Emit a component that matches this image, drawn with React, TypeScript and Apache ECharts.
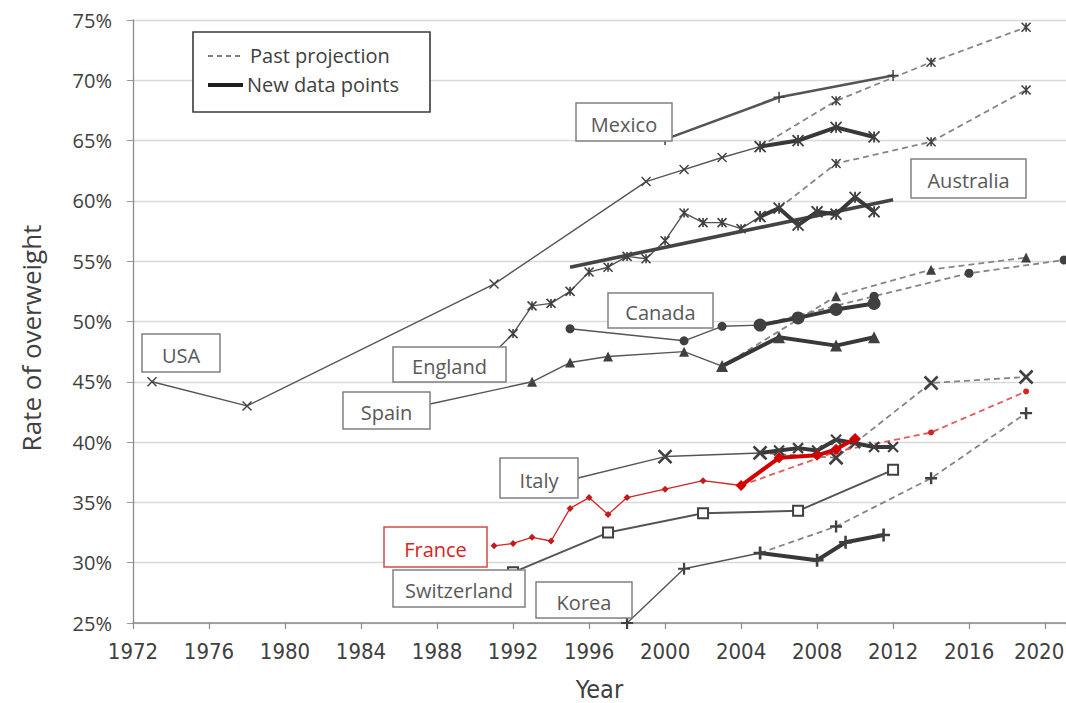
import React, { useEffect, useRef } from 'react';
import * as echarts from 'echarts';

type P = [number, number];

// ---- Data (year, rate of overweight %) ----
const usaHist: P[] = [[1973, 45.0], [1978, 43.0], [1991, 53.1], [1999, 61.6], [2001, 62.6], [2003, 63.6], [2005, 64.5]];
const usaNew: P[] = [[2005, 64.5], [2007, 65.0], [2009, 66.1], [2011, 65.3]];
const usaProj: P[] = [[2005, 64.5], [2009, 68.3], [2014, 71.5], [2019, 74.4]];

const mexicoHist: P[] = [[2000, 65.1], [2006, 68.6], [2012, 70.4]];

const englandHist: P[] = [[1991, 47.4], [1992, 49.0], [1993, 51.3], [1994, 51.5], [1995, 52.5], [1996, 54.1], [1997, 54.5], [1998, 55.4], [1999, 55.2], [2000, 56.7], [2001, 59.0], [2002, 58.2], [2003, 58.2], [2004, 57.7], [2005, 58.7]];
const englandNew: P[] = [[2005, 58.7], [2006, 59.4], [2007, 58.0], [2008, 59.1], [2009, 58.9], [2010, 60.3], [2011, 59.1]];
const englandProj: P[] = [[2006, 59.4], [2009, 63.1], [2014, 64.9], [2019, 69.2]];

const australiaNew: P[] = [[1995, 54.5], [2012, 60.1]];

const canadaHist: P[] = [[1995, 49.4], [2001, 48.4], [2003, 49.6], [2005, 49.7]];
const canadaNew: P[] = [[2005, 49.7], [2007, 50.3], [2009, 51.0], [2011, 51.5]];
const canadaProj: P[] = [[2005, 49.7], [2011, 52.1], [2016, 54.0], [2021, 55.1]];

const spainHist: P[] = [[1993, 45.0], [1995, 46.6], [1997, 47.1], [2001, 47.5], [2003, 46.3]];
const spainNew: P[] = [[2003, 46.3], [2006, 48.7], [2009, 48.0], [2011, 48.7]];
const spainProj: P[] = [[2003, 46.3], [2009, 52.1], [2014, 54.3], [2019, 55.3]];

const italyHist: P[] = [[2000, 38.8], [2005, 39.1]];
const italyNew: P[] = [[2005, 39.1], [2006, 39.3], [2007, 39.5], [2008, 39.3], [2009, 40.2], [2010, 39.9], [2011, 39.6], [2012, 39.6]];
const italyProj: P[] = [[2005, 39.1], [2009, 38.7], [2014, 44.9], [2019, 45.4]];

const franceHist: P[] = [[1991, 31.4], [1992, 31.6], [1993, 32.1], [1994, 31.8], [1995, 34.5], [1996, 35.4], [1997, 34.0], [1998, 35.4], [2000, 36.1], [2002, 36.8], [2004, 36.4]];
const franceNew: P[] = [[2004, 36.4], [2006, 38.7], [2008, 38.9], [2009, 39.4], [2010, 40.3]];
const franceProj: P[] = [[2004, 36.4], [2009, 39.2], [2014, 40.8], [2019, 44.2]];

const switzerlandHist: P[] = [[1992, 29.2], [1997, 32.5], [2002, 34.1], [2007, 34.3], [2012, 37.7]];

const koreaHist: P[] = [[1998, 25.0], [2001, 29.5], [2005, 30.8]];
const koreaNew: P[] = [[2005, 30.8], [2008, 30.2], [2009.5, 31.7], [2011.5, 32.3]];
const koreaProj: P[] = [[2005, 30.8], [2009, 33.0], [2014, 37.0], [2019, 42.4]];

const yearMin = 1972;
const yearMax = 2021.1;
const yearStep = 4;
const lastYearLabel = 2020;
const rateMin = 25;
const rateMax = 75;
const rateStep = 5;

const legendLabels = ['Past projection', 'New data points'];
const yTitle = 'Rate of overweight';
const xTitle = 'Year';

// ---- Annotation layout (label boxes, pixels) ----
const labelBoxes = [
  { text: 'USA', x: 142, y: 334, w: 78, h: 38 },
  { text: 'Mexico', x: 576, y: 103, w: 96, h: 38 },
  { text: 'Australia', x: 911, y: 159, w: 115, h: 39 },
  { text: 'Canada', x: 608, y: 293, w: 105, h: 35 },
  { text: 'England', x: 393, y: 347, w: 113, h: 35 },
  { text: 'Spain', x: 343, y: 392, w: 87, h: 37 },
  { text: 'Italy', x: 500, y: 458, w: 78, h: 40 },
  { text: 'France', x: 384, y: 527, w: 103, h: 40, red: true },
  { text: 'Switzerland', x: 393, y: 570, w: 132, h: 37 },
  { text: 'Korea', x: 536, y: 582, w: 96, h: 36 },
];

const FONT = '"Open Sans", Lato, sans-serif';
const NARROW = '"Liberation Sans Narrow", "DejaVu Sans Condensed", "Open Sans", sans-serif';
const TXT = '#404040';
const BOXTXT = '#595959';
const RED = '#d42424';

const X_SYM = 'path://M0,0L10,10M10,0L0,10';
const STAR_SYM = 'path://M0,0L10,10M10,0L0,10M5,0L5,10';
const PLUS_SYM = 'path://M5,0L5,10M0,5L10,5';

type Kind = 'thin' | 'mid' | 'thick' | 'proj';

function mk(
  data: P[],
  kind: Kind,
  symbol: string,
  symbolSize: number,
  markerW: number,
  opts: { color?: string; marker?: string; width?: number; hideFirst?: boolean } = {}
) {
  const lineColor = opts.color ?? (kind === 'proj' ? '#858585' : kind === 'thick' ? '#383838' : '#555555');
  const width = opts.width ?? (kind === 'thick' ? 4 : kind === 'mid' ? 2.6 : kind === 'proj' ? 1.8 : 1.4);
  const mc = opts.marker ?? '#404040';
  return {
    type: 'line',
    data: data.map((p, i) => (opts.hideFirst && i === 0 ? { value: p, symbol: 'none' } : p)),
    symbol,
    symbolSize,
    showSymbol: true,
    lineStyle: { color: lineColor, width, type: kind === 'proj' ? [6, 4] : 'solid' },
    itemStyle: { color: mc, borderColor: mc, borderWidth: markerW },
    z: kind === 'proj' ? 2 : kind === 'thick' ? 4 : 3,
    silent: true,
    animation: false,
  };
}

export default function App() {
  const ref = useRef<HTMLDivElement>(null);

  useEffect(() => {
    if (!ref.current) return;
    const chart = echarts.init(ref.current, undefined, { renderer: 'svg', width: 1066, height: 703 });

    const series: any[] = [
      // projections
      mk(usaProj, 'proj', STAR_SYM, 9, 1.6, { hideFirst: true }),
      mk(englandProj, 'proj', STAR_SYM, 9, 1.6, { hideFirst: true }),
      mk(canadaProj, 'proj', 'circle', 9, 0, { hideFirst: true }),
      mk(spainProj, 'proj', 'triangle', 10, 0, { hideFirst: true }),
      mk(italyProj, 'proj', X_SYM, 13, 2.6, { hideFirst: true }),
      mk(franceProj, 'proj', 'circle', 6, 0, { hideFirst: true, color: '#e05a5a', marker: RED }),
      mk(koreaProj, 'proj', PLUS_SYM, 12, 2.4, { hideFirst: true }),
      // historical
      mk(usaHist, 'thin', X_SYM, 9, 1.4),
      mk(mexicoHist, 'mid', PLUS_SYM, 11, 1.5),
      mk(englandHist, 'thin', STAR_SYM, 9, 1.6),
      mk(canadaHist, 'thin', 'circle', 9, 0),
      mk(spainHist, 'thin', 'triangle', 10, 0),
      mk(italyHist, 'thin', X_SYM, 13, 2.6),
      mk(franceHist, 'thin', 'diamond', 7, 0, { color: RED, marker: '#c41a1a', width: 1.3 }),
      mk(switzerlandHist, 'mid', 'emptyRect', 10, 1.4, { width: 2 }),
      mk(koreaHist, 'thin', PLUS_SYM, 12, 2.2),
      // new data points
      mk(australiaNew, 'thick', 'none', 0, 0, { width: 3.6, color: '#444444' }),
      mk(usaNew, 'thick', STAR_SYM, 11, 1.8),
      mk(englandNew, 'thick', STAR_SYM, 11, 1.8),
      mk(canadaNew, 'thick', 'circle', 13, 0),
      mk(spainNew, 'thick', 'triangle', 12, 0),
      mk(italyNew, 'thick', X_SYM, 10, 2.2),
      mk(franceNew, 'thick', 'diamond', 11, 0, { color: '#d40000', marker: '#d40000' }),
      mk(koreaNew, 'thick', PLUS_SYM, 13, 2.6),
    ];

    chart.setOption({
      animation: false,
      backgroundColor: '#ffffff',
      grid: { left: 133, top: 20, right: 0, bottom: 80, containLabel: false, outerBoundsMode: 'none' },
      xAxis: {
        type: 'value',
        min: yearMin,
        max: yearMax,
        interval: yearStep,
        name: xTitle,
        nameLocation: 'middle',
        nameGap: 54,
        nameTextStyle: { fontFamily: NARROW, fontSize: 25, color: TXT },
        axisLine: { show: true, lineStyle: { color: '#8a8a8a', width: 1.5 } },
        axisTick: { show: true, length: 6, lineStyle: { color: '#8a8a8a', width: 1.2 } },
        axisLabel: {
          fontFamily: NARROW,
          fontSize: 22,
          color: TXT,
          margin: 17,
          formatter: (v: number) => {
            if (Math.abs(v % yearStep) > 1e-6) return '';
            return v === lastYearLabel ? `{edge|${v}}` : String(v);
          },
          rich: {
            edge: { fontFamily: NARROW, fontSize: 22, color: TXT, padding: [0, 12, 0, 0] },
          },
        },
        splitLine: { show: false },
      },
      yAxis: {
        type: 'value',
        min: rateMin,
        max: rateMax,
        interval: rateStep,
        axisLine: { show: true, lineStyle: { color: '#8a8a8a', width: 1.3 } },
        axisTick: { show: true, length: 6, lineStyle: { color: '#9a9a9a', width: 1 } },
        axisLabel: { fontFamily: FONT, fontSize: 20, color: TXT, margin: 21, formatter: '{value}%' },
        splitLine: { show: true, lineStyle: { color: '#d9d9d9', width: 1.3 } },
      },
      series,
    });

    const graphics: any[] = [];
    // y-axis title
    graphics.push({
      type: 'text', z: 50, silent: true, x: 31, y: 338, rotation: Math.PI / 2,
      style: { text: yTitle, fill: TXT, font: `26px ${FONT}`, textAlign: 'center', textVerticalAlign: 'middle' },
    });

    // connectors from label boxes to the first data point
    const italyPt = chart.convertToPixel({ gridIndex: 0 }, italyHist[0]) as number[];
    const spainPt = chart.convertToPixel({ gridIndex: 0 }, spainHist[0]) as number[];
    graphics.push({
      type: 'line', z: 90, silent: true,
      shape: { x1: 578, y1: 478, x2: italyPt[0], y2: italyPt[1] },
      style: { stroke: '#555555', lineWidth: 1.4 },
    });
    graphics.push({
      type: 'line', z: 90, silent: true,
      shape: { x1: 430, y1: 404, x2: spainPt[0], y2: spainPt[1] },
      style: { stroke: '#555555', lineWidth: 1.4 },
    });

    // label boxes
    labelBoxes.forEach((b) => {
      graphics.push({
        type: 'rect', z: 100, silent: true,
        shape: { x: b.x, y: b.y, width: b.w, height: b.h },
        style: { fill: '#ffffff', stroke: b.red ? '#d24a4a' : '#808080', lineWidth: 1.5 },
      });
      graphics.push({
        type: 'text', z: 101, silent: true,
        x: b.x + b.w / 2, y: b.y + b.h / 2 + 2,
        style: {
          text: b.text, fill: b.red ? RED : BOXTXT, font: `20px ${FONT}`,
          textAlign: 'center', textVerticalAlign: 'middle',
        },
      });
    });

    // legend box
    graphics.push({
      type: 'rect', z: 100, silent: true,
      shape: { x: 193, y: 32, width: 237, height: 80 },
      style: { fill: '#ffffff', stroke: '#3a3a3a', lineWidth: 1.6 },
    });
    graphics.push({
      type: 'line', z: 101, silent: true,
      shape: { x1: 208, y1: 56, x2: 242, y2: 56 },
      style: { stroke: '#808080', lineWidth: 1.8, lineDash: [5, 4] },
    });
    graphics.push({
      type: 'text', z: 101, silent: true, x: 250, y: 55,
      style: { text: legendLabels[0], fill: TXT, font: `20px ${FONT}`, textAlign: 'left', textVerticalAlign: 'middle' },
    });
    graphics.push({
      type: 'line', z: 101, silent: true,
      shape: { x1: 208, y1: 85, x2: 243, y2: 85 },
      style: { stroke: '#1e1e1e', lineWidth: 4 },
    });
    graphics.push({
      type: 'text', z: 101, silent: true, x: 247, y: 84,
      style: { text: legendLabels[1], fill: TXT, font: `20px ${FONT}`, textAlign: 'left', textVerticalAlign: 'middle' },
    });

    chart.setOption({ graphic: graphics });

    return () => chart.dispose();
  }, []);

  return (
    <div
      ref={ref}
      style={{ position: 'fixed', left: 0, top: 0, width: 1066, height: 703, background: '#fff' }}
    />
  );
}
